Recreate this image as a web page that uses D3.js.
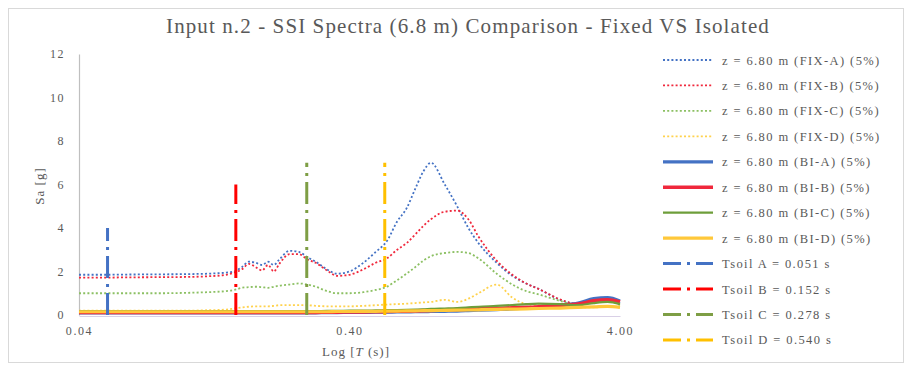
<!DOCTYPE html>
<html>
<head>
<meta charset="utf-8">
<script src="https://cdn.jsdelivr.net/npm/d3@7"></script>
<style>
  html, body { margin: 0; padding: 0; background: #fff; }
  svg { display: block; }
  text { font-family: "Liberation Serif", "Times New Roman", serif; fill: #595959; }
</style>
</head>
<body>
<svg id="chart" width="907" height="365"></svg>
<script>
// Periods T (s) at which the spectra are sampled
const periods = [0.04,0.05,0.06,0.08,0.10,0.12,0.14,0.15,0.16,0.17,0.18,0.19,0.20,0.21,0.22,0.24,0.26,0.28,0.30,0.33,0.36,0.40,0.45,0.50,0.55,0.60,0.65,0.70,0.75,0.80,0.90,1.00,1.10,1.20,1.40,1.60,1.80,2.00,2.40,2.80,3.20,3.60,4.00];

// Fixed-base spectral accelerations Sa [g]
const fixA = [1.85,1.85,1.86,1.87,1.88,1.90,1.95,2.00,2.20,2.45,2.40,2.30,2.45,2.30,2.55,2.95,2.90,2.65,2.45,2.10,1.90,2.00,2.40,2.90,3.40,4.30,4.90,5.80,6.60,7.00,6.00,5.00,4.00,3.30,2.40,1.80,1.45,1.20,0.70,0.50,0.75,0.80,0.55];
const fixB = [1.72,1.72,1.73,1.74,1.75,1.78,1.85,1.95,2.10,2.35,2.20,2.05,2.30,2.00,2.35,2.80,2.80,2.55,2.40,2.05,1.80,1.85,2.10,2.40,2.60,3.00,3.30,3.70,4.10,4.40,4.75,4.80,4.40,3.60,2.50,1.85,1.45,1.20,0.72,0.50,0.70,0.75,0.50];
const fixC = [1.00,1.00,1.00,1.00,1.02,1.05,1.10,1.15,1.25,1.28,1.30,1.28,1.25,1.30,1.35,1.40,1.45,1.40,1.30,1.10,1.00,1.00,1.05,1.15,1.30,1.60,1.90,2.20,2.50,2.70,2.85,2.90,2.85,2.60,1.90,1.40,1.10,0.95,0.65,0.45,0.60,0.65,0.45];
const fixD = [0.20,0.20,0.20,0.20,0.20,0.22,0.25,0.30,0.35,0.38,0.40,0.40,0.40,0.42,0.45,0.45,0.45,0.45,0.42,0.40,0.40,0.40,0.42,0.45,0.48,0.50,0.52,0.55,0.58,0.60,0.70,0.60,0.75,1.00,1.40,0.80,0.50,0.45,0.40,0.35,0.35,0.40,0.35];

// Base-isolated spectral accelerations Sa [g]
const isoA = [0.10,0.10,0.10,0.10,0.10,0.10,0.10,0.10,0.10,0.10,0.10,0.10,0.10,0.10,0.10,0.10,0.10,0.10,0.10,0.11,0.11,0.12,0.12,0.13,0.13,0.14,0.14,0.15,0.15,0.16,0.17,0.18,0.20,0.22,0.25,0.28,0.32,0.35,0.45,0.55,0.75,0.80,0.65];
const isoB = [0.12,0.12,0.12,0.12,0.12,0.12,0.12,0.12,0.12,0.12,0.12,0.12,0.12,0.12,0.12,0.12,0.12,0.12,0.12,0.13,0.13,0.14,0.14,0.15,0.16,0.17,0.18,0.19,0.20,0.21,0.23,0.25,0.27,0.28,0.30,0.33,0.35,0.38,0.45,0.50,0.65,0.70,0.60];
const isoC = [0.18,0.18,0.18,0.18,0.18,0.18,0.18,0.18,0.18,0.18,0.18,0.18,0.18,0.18,0.18,0.18,0.18,0.18,0.18,0.19,0.19,0.20,0.20,0.21,0.22,0.23,0.24,0.25,0.26,0.28,0.30,0.32,0.35,0.38,0.42,0.46,0.50,0.52,0.50,0.45,0.55,0.60,0.50];
const isoD = [0.15,0.15,0.15,0.15,0.15,0.15,0.15,0.15,0.15,0.15,0.15,0.15,0.15,0.15,0.15,0.15,0.15,0.15,0.15,0.15,0.16,0.16,0.17,0.17,0.18,0.18,0.19,0.19,0.20,0.20,0.21,0.22,0.23,0.24,0.26,0.27,0.28,0.30,0.32,0.35,0.37,0.40,0.35];

// Soil fundamental periods and the height of their marker lines
const soilNames = ["A", "B", "C", "D"];
const soilPeriods = [0.051, 0.152, 0.278, 0.540];
const soilHeights = [4, 6, 7, 7];

// Axis ticks
const xTicks = [0.04, 0.40, 4.00];
const yTicks = [0, 2, 4, 6, 8, 10, 12];

const blue = "#4472C4", red = "#F0283C", yellow = "#FFC000";

const series = [
  { label: "z = 6.80 m (FIX-A) (5%)", values: fixA, color: blue,   kind: "dot" },
  { label: "z = 6.80 m (FIX-B) (5%)", values: fixB, color: red,    kind: "dot" },
  { label: "z = 6.80 m (FIX-C) (5%)", values: fixC, color: "#8CC063", kind: "dot" },
  { label: "z = 6.80 m (FIX-D) (5%)", values: fixD, color: "#FFD24D", kind: "dot" },
  { label: "z = 6.80 m (BI-A) (5%)",  values: isoA, color: blue,   kind: "solid", width: 3.2 },
  { label: "z = 6.80 m (BI-B) (5%)",  values: isoB, color: red,    kind: "solid", width: 3.6 },
  { label: "z = 6.80 m (BI-C) (5%)",  values: isoC, color: "#6E9E3A", kind: "solid", width: 2.2 },
  { label: "z = 6.80 m (BI-D) (5%)",  values: isoD, color: "#FFC83A", kind: "solid", width: 3.2 }
];
const soilColors = [blue, "#FF0000", "#7E9E45", yellow];
const soilFmt = d3.format(".3f");

const svg = d3.select("#chart");

// Chart frame
svg.append("rect").attr("x", 8.5).attr("y", 8.5).attr("width", 895).attr("height", 354)
  .attr("fill", "#fff").attr("stroke", "#d9d9d9").attr("stroke-width", 1);

// Title
svg.append("text").attr("x", 468).attr("y", 33).attr("text-anchor", "middle")
  .style("font-size", "21px").style("letter-spacing", "1.1px")
  .text("Input n.2 - SSI Spectra (6.8 m) Comparison - Fixed VS Isolated");

const x = d3.scaleLog().domain([0.04, 4]).range([79, 620]);
const y = d3.scaleLinear().domain([0, 12]).range([315, 54]);

// Y axis
const yAxis = svg.append("g").attr("transform", "translate(79,0)")
  .call(d3.axisLeft(y).tickValues(yTicks).tickSize(0).tickPadding(14).tickFormat(d3.format("d")));
yAxis.select(".domain").attr("stroke", "#bfbfbf").attr("stroke-width", 1.2);
yAxis.selectAll("text").style("font-size", "12px").style("letter-spacing", "1.5px")
  .style("font-family", "'Liberation Serif', serif").attr("fill", "#7f7f7f");

// X axis
const xAxis = svg.append("g").attr("transform", "translate(0,316)")
  .call(d3.axisBottom(x).tickValues(xTicks).tickSize(0).tickPadding(10).tickFormat(d3.format(".2f")));
xAxis.select(".domain").attr("stroke", "#d9d0e6").attr("stroke-width", 1.2);
xAxis.selectAll("text").style("font-size", "12px").style("letter-spacing", "1.6px")
  .style("font-family", "'Liberation Serif', serif").attr("fill", "#7f7f7f");

// Axis titles
svg.append("text").attr("x", 356).attr("y", 356).attr("text-anchor", "middle")
  .style("font-size", "13px").style("letter-spacing", "1px")
  .html('Log [<tspan font-style="italic">T</tspan> (s)]');
svg.append("text").attr("transform", "translate(44,186) rotate(-90)").attr("text-anchor", "middle")
  .style("font-size", "13px").style("letter-spacing", "1px").text("Sa [g]");

// Spectra
const line = d3.line().x((d, i) => x(periods[i])).y(d => y(d)).curve(d3.curveMonotoneX);
const plot = svg.append("g");
series.forEach(s => {
  const p = plot.append("path").datum(s.values).attr("d", line).attr("fill", "none")
    .attr("stroke", s.color).attr("stroke-linejoin", "round");
  if (s.kind === "dot") {
    p.attr("stroke-width", 1.8).attr("stroke-dasharray", "2,2.2");
  } else {
    p.attr("stroke-width", s.width);
  }
});

// Soil period markers
soilPeriods.forEach((t, i) => {
  plot.append("line")
    .attr("x1", x(t)).attr("x2", x(t)).attr("y1", y(0)).attr("y2", y(soilHeights[i]))
    .attr("stroke", soilColors[i]).attr("stroke-width", 3)
    .attr("stroke-dasharray", "22,6,3,6");
});

// Legend
const legendItems = series.map(s => ({ label: s.label, color: s.color, kind: s.kind, width: s.width }))
  .concat(soilPeriods.map((t, i) => ({
    label: "Tsoil " + soilNames[i] + " = " + soilFmt(t) + " s",
    color: soilColors[i], kind: "soil"
  })));
const legend = svg.append("g");
legendItems.forEach((it, i) => {
  const ly = 60 + i * 25.45;
  const l = legend.append("line").attr("x1", 663).attr("x2", 713).attr("y1", ly).attr("y2", ly)
    .attr("stroke", it.color);
  if (it.kind === "dot") l.attr("stroke-width", 1.8).attr("stroke-dasharray", "2,2.2");
  else if (it.kind === "solid") l.attr("stroke-width", it.width);
  else l.attr("stroke-width", 3).attr("stroke-dasharray", "18,6,3,6,17");
  legend.append("text").attr("x", 722).attr("y", ly + 4.5)
    .style("font-size", "12.5px").style("letter-spacing", "1.4px").text(it.label);
});
</script>
</body>
</html>
